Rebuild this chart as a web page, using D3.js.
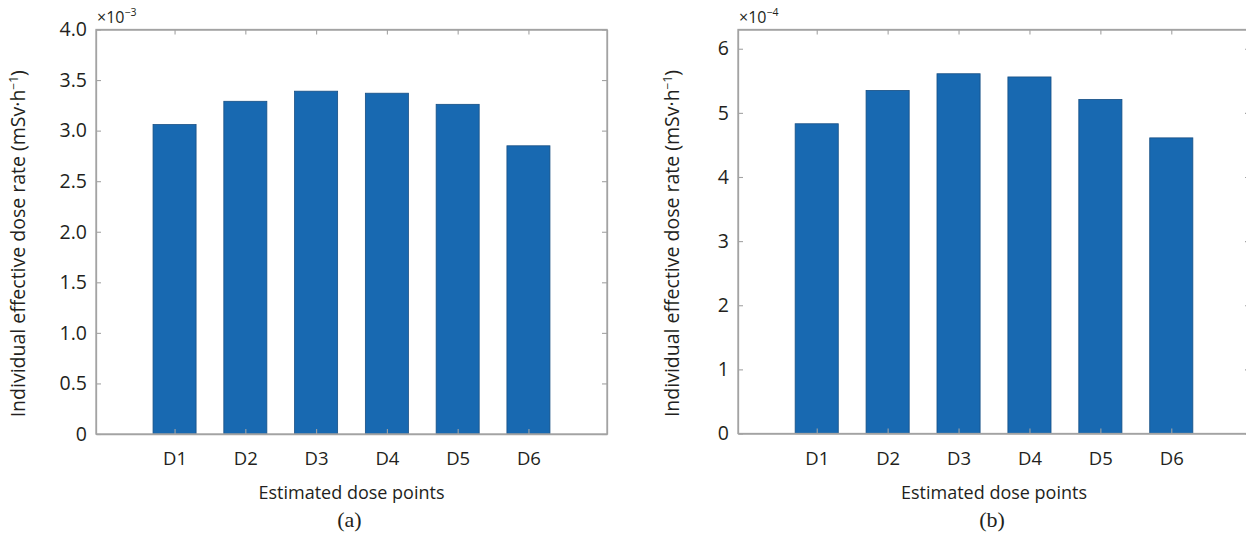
<!DOCTYPE html>
<html>
<head>
<meta charset="utf-8">
<script src="https://cdn.jsdelivr.net/npm/d3@7"></script>
<style>
  html, body { margin: 0; padding: 0; background: #fff; }
  svg { display: block; }
  text { fill: #231f20; }
</style>
</head>
<body>
<svg id="chart" width="1246" height="534"></svg>
<script>
// Dose point labels shared by both panels
const categories = ["D1", "D2", "D3", "D4", "D5", "D6"];

// Panel (a): individual effective dose rate, in units of 1e-3 mSv/h
const doseRateA = [3.06, 3.29, 3.39, 3.37, 3.26, 2.85];
const yTicksA = [0, 0.5, 1.0, 1.5, 2.0, 2.5, 3.0, 3.5, 4.0];
const yTickLabelsA = ["0", "0.5", "1.0", "1.5", "2.0", "2.5", "3.0", "3.5", "4.0"];
const yMaxA = 4.0;

// Panel (b): individual effective dose rate, in units of 1e-4 mSv/h
const doseRateB = [4.83, 5.35, 5.61, 5.56, 5.21, 4.61];
const yTicksB = [0, 1, 2, 3, 4, 5, 6];
const yTickLabelsB = ["0", "1", "2", "3", "4", "5", "6"];
const yMaxB = 6.3;

const svg = d3.select("#chart");
const FONT = "'Open Sans', 'Noto Sans', sans-serif";
const AXIS_COLOR = "#a3a3a3";
const BAR_FILL = "#1869b1";
const BAR_EDGE = "#174f84";

function drawPanel(cfg) {
  const { left, right, top, bottom, values, ticks, tickLabels, yMax, exponent, panelTag, yLabelX } = cfg;

  const x = d3.scalePoint().domain(categories).range([left, right]).padding(1.11);
  const y = d3.scaleLinear().domain([0, yMax]).range([bottom, top]);
  const barW = x.step() * 0.608;

  const g = svg.append("g");

  // bars
  g.selectAll("rect.bar")
    .data(values)
    .join("rect")
    .attr("class", "bar")
    .attr("x", (d, i) => x(categories[i]) - barW / 2)
    .attr("y", d => y(d))
    .attr("width", barW)
    .attr("height", d => y(0) - y(d))
    .attr("fill", BAR_FILL)
    .attr("stroke", BAR_EDGE)
    .attr("stroke-width", 0.8);

  const styleAxis = size => sel => {
    sel.selectAll("path.domain").attr("stroke", AXIS_COLOR).attr("stroke-width", 1.3);
    sel.selectAll(".tick line").attr("stroke", AXIS_COLOR).attr("stroke-width", 1.1);
    sel.selectAll(".tick text")
      .attr("font-family", FONT)
      .attr("font-size", size)
      .attr("fill", "#231f20");
  };

  // left axis with labels, ticks pointing inward
  g.append("g")
    .attr("transform", `translate(${left},0)`)
    .call(d3.axisLeft(y).tickValues(ticks)
      .tickFormat((d, i) => tickLabels[i])
      .tickSizeInner(-5).tickSizeOuter(0).tickPadding(9))
    .call(styleAxis(19.5));

  // right axis (ticks only)
  g.append("g")
    .attr("transform", `translate(${right},0)`)
    .call(d3.axisRight(y).tickValues(ticks).tickFormat("")
      .tickSizeInner(-5).tickSizeOuter(0))
    .call(styleAxis(19.5));

  // top axis (ticks only)
  g.append("g")
    .attr("transform", `translate(0,${top})`)
    .call(d3.axisTop(x).tickFormat("").tickSizeInner(-5).tickSizeOuter(0))
    .call(styleAxis(18.5));

  // bottom axis with category labels
  g.append("g")
    .attr("transform", `translate(0,${bottom})`)
    .call(d3.axisBottom(x).tickSizeInner(-5).tickSizeOuter(0).tickPadding(18))
    .call(styleAxis(18.5));

  // plot box
  g.append("rect")
    .attr("x", left).attr("y", top)
    .attr("width", right - left).attr("height", bottom - top)
    .attr("fill", "none").attr("stroke", AXIS_COLOR).attr("stroke-width", 1.3);

  // exponent multiplier
  const ex = g.append("text")
    .attr("x", left + 1).attr("y", top - 7)
    .attr("font-family", FONT).attr("font-size", 16);
  ex.append("tspan").text("×10");
  ex.append("tspan").attr("font-size", 10.5).attr("dy", -7).text(exponent);

  // x axis title
  g.append("text")
    .attr("x", (left + right) / 2).attr("y", 499)
    .attr("text-anchor", "middle")
    .attr("font-family", FONT).attr("font-size", 18)
    .text("Estimated dose points");

  // panel tag
  g.append("text")
    .attr("x", (left + right) / 2 - 2).attr("y", 527)
    .attr("text-anchor", "middle")
    .attr("font-family", "'Liberation Serif', 'DejaVu Serif', serif").attr("font-size", 22)
    .text(panelTag);

  // y axis title
  const yl = g.append("text")
    .attr("transform", `translate(${yLabelX},${(top + bottom) / 2 + 12}) rotate(-90)`)
    .attr("text-anchor", "middle")
    .attr("font-family", FONT).attr("font-size", 19.5);
  yl.append("tspan").text("Individual effective dose rate (mSv·h");
  yl.append("tspan").attr("font-size", 12).attr("dy", -7).text("−1");
  yl.append("tspan").attr("dy", 7).text(")");
}

drawPanel({
  left: 96, right: 607, top: 29.5, bottom: 434,
  values: doseRateA, ticks: yTicksA, tickLabels: yTickLabelsA, yMax: yMaxA,
  exponent: "−3", panelTag: "(a)", yLabelX: 25
});

drawPanel({
  left: 738, right: 1250, top: 29.5, bottom: 433.5,
  values: doseRateB, ticks: yTicksB, tickLabels: yTickLabelsB, yMax: yMaxB,
  exponent: "−4", panelTag: "(b)", yLabelX: 679
});
</script>
</body>
</html>
